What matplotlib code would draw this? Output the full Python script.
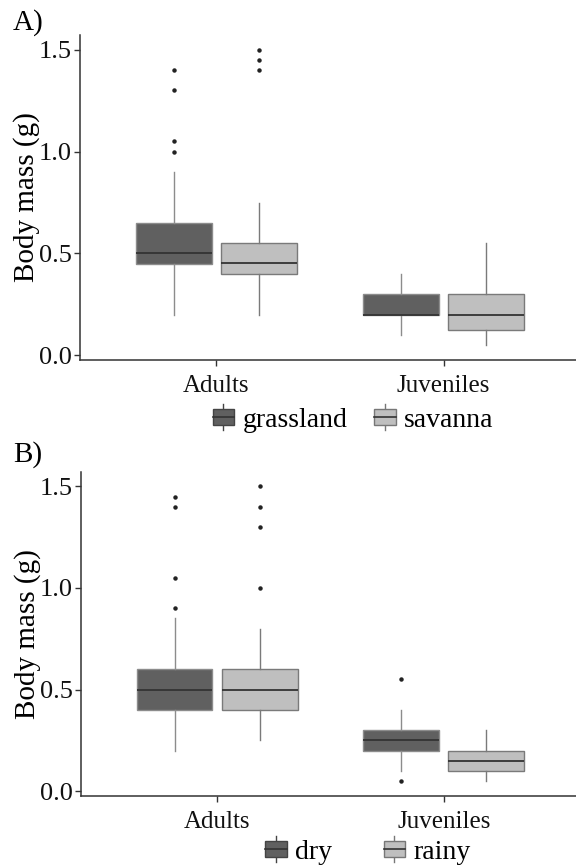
import matplotlib
matplotlib.use("Agg")
import matplotlib.pyplot as plt
from matplotlib.legend_handler import HandlerBase
from matplotlib.patches import Rectangle
from matplotlib.lines import Line2D

plt.rcParams['font.family'] = ['Liberation Serif', 'DejaVu Serif']

categories = ["Adults", "Juveniles"]

# Panel A: habitat
groups_a = ["grassland", "savanna"]
# per group: [Adults, Juveniles] -> (whislo, q1, med, q3, whishi)
a_grass_stats = [(0.20, 0.45, 0.50, 0.65, 0.90), (0.10, 0.20, 0.20, 0.30, 0.40)]
a_sav_stats = [(0.20, 0.40, 0.455, 0.55, 0.75), (0.05, 0.125, 0.20, 0.30, 0.55)]
a_grass_fliers = [[1.00, 1.05, 1.30, 1.40], []]
a_sav_fliers = [[1.40, 1.45, 1.50], []]

# Panel B: season
groups_b = ["dry", "rainy"]
b_dry_stats = [(0.20, 0.40, 0.50, 0.60, 0.85), (0.10, 0.20, 0.25, 0.30, 0.40)]
b_rain_stats = [(0.25, 0.40, 0.50, 0.60, 0.80), (0.05, 0.10, 0.15, 0.20, 0.30)]
b_dry_fliers = [[0.90, 1.05, 1.40, 1.45], [0.05, 0.55]]
b_rain_fliers = [[1.00, 1.30, 1.40, 1.50], []]

yticks = [0.0, 0.5, 1.0, 1.5]
ylabel = "Body mass (g)"

DARK = "#606060"
LIGHT = "#bfbfbf"
DARK_EDGE = "#8c8c8c"
LIGHT_EDGE = "#7a7a7a"
MED = "#333333"
AXC = "#333333"


class BoxHandler(HandlerBase):
    def __init__(self, fc, ec):
        super().__init__()
        self.fc = fc
        self.ec = ec

    def create_artists(self, legend, orig_handle, xdescent, ydescent,
                       width, height, fontsize, trans):
        w = width
        h = height
        bh = h * 0.82
        by = (h - bh) / 2 - ydescent
        bx = 0
        bw = w
        rect = Rectangle((bx, by), bw, bh, facecolor=self.fc,
                         edgecolor=self.ec, lw=1.0, transform=trans)
        med = Line2D([bx, bx + bw], [by + bh / 2, by + bh / 2],
                     color=MED, lw=1.2, transform=trans)
        w1 = Line2D([w / 2, w / 2], [by + bh, by + bh + h * 0.28],
                    color=self.ec, lw=1.0, transform=trans)
        w2 = Line2D([w / 2, w / 2], [by, by - h * 0.28],
                    color=self.ec, lw=1.0, transform=trans)
        return [w1, w2, rect, med]


def make_stats(s, fl):
    lo, q1, med, q3, hi = s
    return dict(whislo=lo, q1=q1, med=med, q3=q3, whishi=hi, fliers=fl)


def draw_panel(fig, ax, stats1, fl1, stats2, fl2, names, letter, letter_base,
               leg_y, leg_x, colsp):
    pos = [1, 2]
    off = 0.1875
    bw = 0.335
    for stats, fls, fc, ec, sgn in [(stats1, fl1, DARK, DARK_EDGE, -1),
                                     (stats2, fl2, LIGHT, LIGHT_EDGE, 1)]:
        bxps = [make_stats(s, f) for s, f in zip(stats, fls)]
        ax.bxp(bxps, positions=[p + sgn * off for p in pos], widths=bw,
               patch_artist=True, showcaps=False, manage_ticks=False,
               boxprops=dict(facecolor=fc, edgecolor=ec, lw=1.0),
               medianprops=dict(color=MED, lw=1.3),
               whiskerprops=dict(color=ec, lw=1.0),
               flierprops=dict(marker='o', markersize=2.2,
                               markerfacecolor='#222222',
                               markeredgecolor='#222222'))
    ax.set_xlim(0.4, 2.6)
    ax.set_ylim(-0.0225, 1.5725)
    ax.set_xticks(pos)
    ax.set_xticklabels(categories, fontsize=18)
    ax.set_yticks(yticks)
    ax.set_yticklabels(["%.1f" % v for v in yticks], fontsize=19)
    ax.set_ylabel(ylabel, fontsize=21, labelpad=-1)
    for s in ["top", "right"]:
        ax.spines[s].set_visible(False)
    for s in ["left", "bottom"]:
        ax.spines[s].set_color(AXC)
        ax.spines[s].set_linewidth(1.1)
    ax.tick_params(axis='both', length=4, width=1, color=AXC,
                   colors='#111111', pad=2)
    ax.tick_params(axis='x', pad=7)
    fig.text(13 / 576, 1 - letter_base / 867, letter, fontsize=21,
             ha='left', va='baseline')
    h1 = Rectangle((0, 0), 1, 1)
    h2 = Rectangle((0, 0), 1, 1)
    leg = ax.legend([h1, h2], names, loc='center', ncol=2,
                    bbox_to_anchor=(leg_x, leg_y),
                    bbox_transform=fig.transFigure,
                    frameon=False, fontsize=20,
                    handler_map={h1: BoxHandler(DARK, "#444444"),
                                 h2: BoxHandler(LIGHT, "#777777")},
                    handlelength=0.78, handleheight=0.7, handletextpad=0.3,
                    columnspacing=colsp, borderpad=0, borderaxespad=0)
    return leg


fig = plt.figure(figsize=(5.76, 8.67), dpi=100)
axA = fig.add_axes([0.139, 0.5848, 0.868, 0.375])
axB = fig.add_axes([0.1406, 0.0822, 0.866, 0.3738])

draw_panel(fig, axA, a_grass_stats, a_grass_fliers, a_sav_stats, a_sav_fliers,
           groups_a, "A)", 30, 1 - 420 / 867, 353 / 576, 0.95)
draw_panel(fig, axB, b_dry_stats, b_dry_fliers, b_rain_stats, b_rain_fliers,
           groups_b, "B)", 462, 1 - 852 / 867, 368 / 576, 1.85)

fig.savefig("out.png", dpi=100)
